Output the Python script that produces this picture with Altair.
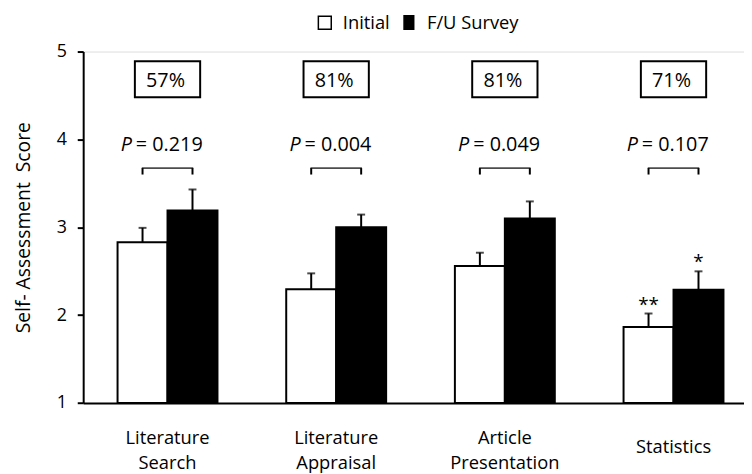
import altair as alt
import pandas as pd

# ---- data ----
categories = ["Literature Search", "Literature Appraisal", "Article Presentation", "Statistics"]
series = ["Initial", "F/U Survey"]
initial_mean = [2.83, 2.295, 2.56, 1.865]
initial_err = [0.163, 0.18, 0.15, 0.153]
fu_mean = [3.19, 3.0, 3.10, 2.288]
fu_err = [0.24, 0.144, 0.194, 0.21]
initial_stars = ["", "", "", "**"]
fu_stars = ["", "", "", "*"]
p_values = ["0.219", "0.004", "0.049", "0.107"]
pct_labels = ["57%", "81%", "81%", "71%"]

# annotation heights (data units)
BOX_TOP, BOX_BOTTOM, PCT_BASE = 4.89, 4.48, 4.60
P_BASE = 3.868
BRACKET_TOP, BRACKET_LEG = 3.673, 3.60

rows = []
for i, c in enumerate(categories):
    rows.append(dict(category=c, series="Initial", mean=initial_mean[i],
                     top=initial_mean[i] + initial_err[i], star=initial_stars[i]))
    rows.append(dict(category=c, series="F/U Survey", mean=fu_mean[i],
                     top=fu_mean[i] + fu_err[i], star=fu_stars[i]))
bars_df = pd.DataFrame(rows)
ann_df = pd.DataFrame(dict(category=categories,
                           ptext=["= " + p for p in p_values],
                           pct=pct_labels))
leg_df = pd.DataFrame(dict(series=series))

FONT = "Open Sans"

xscale = alt.Scale(domain=categories, range=[0, 682], paddingInner=0, paddingOuter=0)
yscale = alt.Scale(domain=[1, 5], zero=False, nice=False)
xoff = alt.XOffset("series:N", sort=series,
                   scale=alt.Scale(domain=series, paddingInner=0, paddingOuter=0.688))

X = alt.X("category:N", sort=categories, scale=xscale, title=None,
          axis=alt.Axis(labelExpr="datum.label == 'Statistics' ? datum.label : split(datum.label, ' ')",
                        labelFontSize=18.5, labelFont=FONT, labelColor="black",
                        labelBaseline={"condition": {"test": "datum.value == 'Statistics'",
                                                     "value": "top"},
                                       "value": "middle"},
                        labelLineHeight=25, labelPadding=35,
                        labelAngle=0, ticks=False, tickSize=0,
                        domainColor="black", domainWidth=2, labelOverlap=False))
Xplain = alt.X("category:N", sort=categories, scale=xscale, title=None)

Y = alt.Y("mean:Q", scale=yscale,
          axis=alt.Axis(values=[1, 2, 3, 4, 5], format="d", tickSize=6, tickWidth=2,
                        tickColor="black", domainColor="black", domainWidth=2,
                        labelFontSize=18, labelFont=FONT,
                        labelColor="black", labelPadding=11, grid=False,
                        title="Self- Assessment\u00a0\u00a0Score", titleFont=FONT,
                        titleFontSize=19.5, titleFontWeight="normal", titleColor="black",
                        titleX=-60, titleY=177.6, titleAngle=270, titleAlign="center",
                        titleBaseline="middle"))

fill_scale = alt.Scale(domain=series, range=["white", "black"])
stroke_scale = alt.Scale(domain=series, range=["black", "black"])
shape_scale = alt.Scale(domain=series, range=["square", "M-0.75,-1.05H0.75V1.05H-0.75Z"])

legend = alt.Legend(orient="none", legendX=235, legendY=-39, direction="horizontal",
                    title=None, labelFontSize=18.5, labelFont=FONT, labelColor="black",
                    symbolSize=170, symbolStrokeColor="black", symbolStrokeWidth=1.5,
                    symbolOpacity=1, columnPadding=10, labelOffset=9, padding=0)

bars = alt.Chart(bars_df).mark_bar(stroke="black", strokeWidth=2).encode(
    x=X, xOffset=xoff, y=Y, y2=alt.datum(1),
    fill=alt.Fill("series:N", scale=fill_scale, sort=series, legend=None),
)

err = alt.Chart(bars_df).mark_rule(color="black", strokeWidth=2).encode(
    x=Xplain, xOffset=xoff, y=alt.Y("mean:Q", scale=yscale), y2="top:Q")

caps = alt.Chart(bars_df).mark_tick(color="black", size=8, thickness=2).encode(
    x=Xplain, xOffset=xoff, y=alt.Y("top:Q", scale=yscale))

stars = alt.Chart(bars_df).mark_text(font=FONT, fontSize=19, baseline="alphabetic",
                                     dy=-3, color="black").encode(
    x=Xplain, xOffset=xoff, y=alt.Y("top:Q", scale=yscale), text="star:N")

legs = alt.Chart(bars_df).mark_rule(color="black", strokeWidth=2).encode(
    x=Xplain, xOffset=xoff, y=alt.datum(BRACKET_LEG), y2=alt.datum(BRACKET_TOP))

bracket = alt.Chart(ann_df).mark_tick(color="black", size=52, thickness=2).encode(
    x=Xplain, y=alt.datum(BRACKET_TOP))

p_italic = alt.Chart(ann_df).mark_text(text="P", font=FONT, fontSize=20, fontStyle="italic",
                                       align="right", baseline="alphabetic", dx=-36,
                                       color="black").encode(
    x=Xplain, y=alt.datum(P_BASE))

p_text = alt.Chart(ann_df).mark_text(font=FONT, fontSize=20, align="left",
                                     baseline="alphabetic", dx=-32, color="black").encode(
    x=Xplain, y=alt.datum(P_BASE), text="ptext:N")

box = alt.Chart(ann_df).mark_bar(width=66, fill="white", stroke="black", strokeWidth=2).encode(
    x=Xplain, y=alt.datum(BOX_TOP), y2=alt.datum(BOX_BOTTOM))

pct = alt.Chart(ann_df).mark_text(font=FONT, fontSize=20, baseline="alphabetic",
                                  dx=-2, color="black").encode(
    x=Xplain, y=alt.datum(PCT_BASE), text="pct:N")

leg_layer = alt.Chart(leg_df).mark_point(filled=True, strokeWidth=1.5, opacity=0).encode(
    fill=alt.Fill("series:N", scale=fill_scale, sort=series, legend=legend),
    stroke=alt.Stroke("series:N", scale=stroke_scale, sort=series, legend=legend),
    shape=alt.Shape("series:N", sort=series, scale=shape_scale, legend=legend),
)

chart = alt.layer(bars, err, caps, stars, legs, bracket, p_italic, p_text, box, pct,
                  leg_layer).resolve_scale(fill="independent", shape="independent",
                                           stroke="independent").properties(
    width=668, height=355.2,
    padding={"left": 76, "top": 41.5, "right": 0, "bottom": 69},
    autosize=alt.AutoSizeParams(type="none"),
).configure_view(stroke=None).configure(font=FONT)

chart.save("out.html", embed_options={"renderer": "svg", "actions": False})
